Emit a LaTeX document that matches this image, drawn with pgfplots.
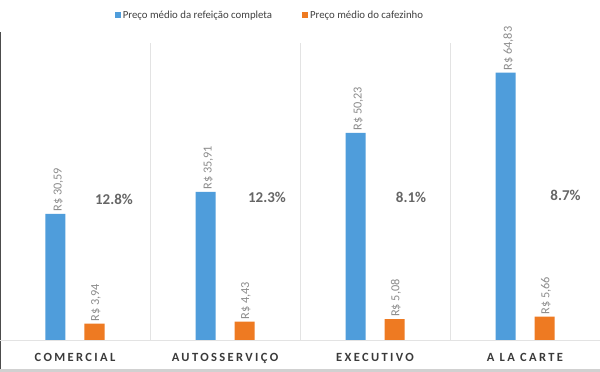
\documentclass[border=0pt]{standalone}
\usepackage{fontspec}
\setmainfont{Carlito}
\usepackage{pgfplots}
\pgfplotsset{compat=1.18}
\definecolor{cblue}{HTML}{4F9DDB}
\definecolor{corange}{HTML}{EE7A22}
\definecolor{lbl}{HTML}{8C8C8C}
\definecolor{pct}{HTML}{666666}
\definecolor{leg}{HTML}{404040}
\definecolor{cat}{HTML}{3A3A3A}
\definecolor{gridc}{HTML}{E3E3E3}
\begin{document}
\begin{tikzpicture}
\path[use as bounding box, fill=white] (0pt,0pt) rectangle (600pt,372pt);
\fill[black!18] (0pt,0pt) rectangle (600pt,3pt);
\draw[black!70, line width=1.2pt] (0.6pt,3pt) -- (0.6pt,340pt);
\begin{axis}[
  at={(0pt,32pt)}, anchor=south west,
  scale only axis, width=600pt, height=297pt,
  xmin=-0.5, xmax=3.5, ymin=0, ymax=72,
  axis x line=bottom, axis y line=none,
  axis line style={gridc, line width=0.8pt, -},
  xtick={0,1,2,3},
  xticklabels={COMERCIAL,AUTOSSERVIÇO,EXECUTIVO,A LA CARTE},
  xticklabel style={font=\fontsize{12.5}{13}\selectfont\bfseries\addfontfeature{LetterSpace=19}, text=cat, yshift=-10pt},
  minor xtick={0.5,1.5,2.5},
  xminorgrids, minor grid style={gridc, line width=0.8pt},
  major tick length=0pt, minor tick length=0pt,
  ytick=\empty,
  legend style={at={(0.45,1.0)}, anchor=south, yshift=19pt, draw=none, fill=none,
    legend columns=2, font=\fontsize{10.8}{12}\selectfont, text=leg,
    /tikz/every even column/.append style={column sep=28pt}},
  legend image code/.code={\fill[#1] (0pt,-3pt) rectangle (6pt,3pt);},
  clip=false,
]
\addplot[ybar, bar width=20pt, bar shift=-19.5pt, fill=cblue, draw=none,
  nodes near coords, point meta=explicit symbolic,
  every node near coord/.style={xshift=-16.5pt, rotate=90, anchor=west, font=\fontsize{12.3}{13}\selectfont, text=lbl, inner sep=2pt}]
  coordinates {
  (0,30.59) [R\$ 30,59]
  (1,35.91) [R\$ 35,91]
  (2,50.23) [R\$ 50,23]
  (3,64.83) [R\$ 64,83]
};
\addlegendentry{Preço médio da refeição completa}
\addplot[ybar, bar width=20pt, bar shift=19.5pt, fill=corange, draw=none,
  nodes near coords, point meta=explicit symbolic,
  every node near coord/.style={xshift=21pt, rotate=90, anchor=west, font=\fontsize{12.3}{13}\selectfont, text=lbl, inner sep=2pt}]
  coordinates {
  (0,3.94) [R\$ 3,94]
  (1,4.43) [R\$ 4,43]
  (2,5.08) [R\$ 5,08]
  (3,5.66) [R\$ 5,66]
};
\addlegendentry{Preço médio do cafezinho}
\addplot[only marks, mark=none, nodes near coords, point meta=explicit symbolic,
  every node near coord/.style={anchor=center, rotate=0, font=\fontsize{15}{16}\selectfont\bfseries, text=pct}]
  coordinates {
  (0.26,34.2) [12.8\%]
  (1.28,34.6) [12.3\%]
  (2.24,34.6) [8.1\%]
  (3.27,35.1) [8.7\%]
};
\end{axis}
\end{tikzpicture}
\end{document}
